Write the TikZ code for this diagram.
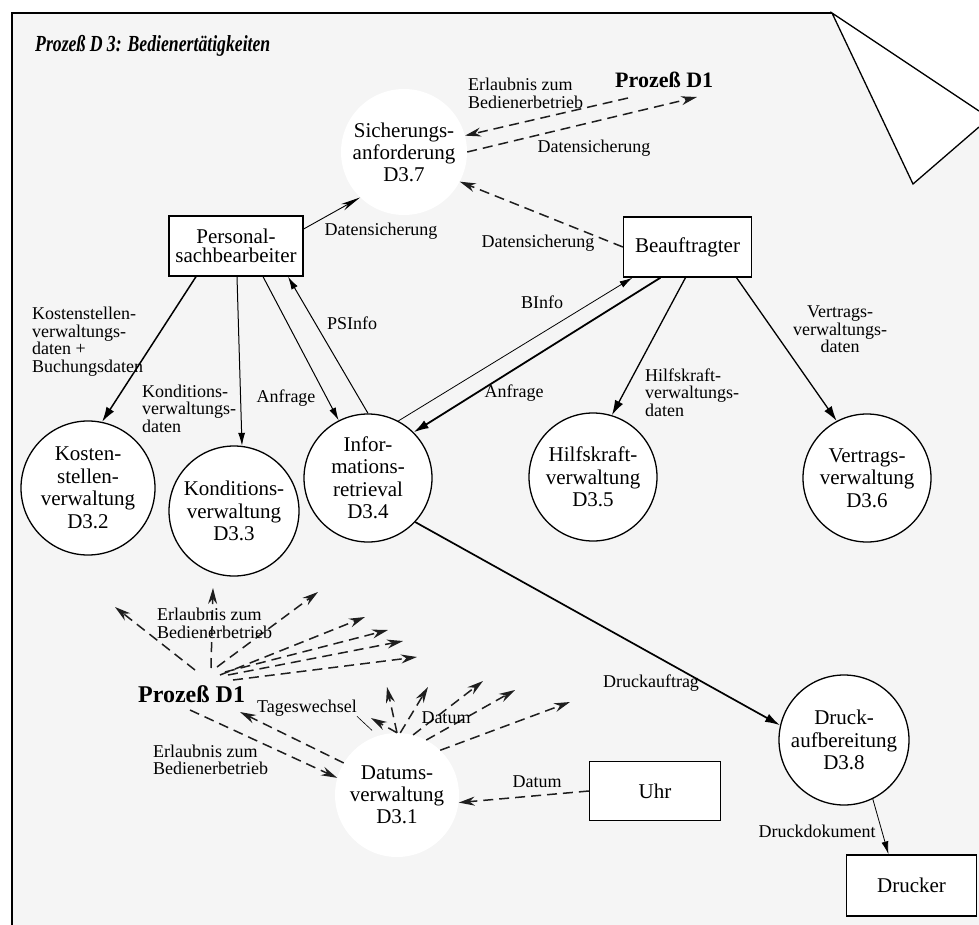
\documentclass[tikz,border=0pt]{standalone}
\usepackage{fontspec}
\setmainfont{Liberation Serif}
\newfontfamily\headfont[FakeStretch=0.77]{Liberation Serif}
\usetikzlibrary{arrows.meta}
\definecolor{sheet}{HTML}{F5F5F5}
\definecolor{ink}{HTML}{1E1E1E}
\begin{document}
\begin{tikzpicture}[x=1pt,y=-1pt,
  proc/.style={circle,draw=black,line width=1.3pt,fill=white,inner sep=0pt,align=center,font=\fontsize{21}{22.5}\selectfont},
  ghost/.style={circle,fill=white,inner sep=0pt,align=center,font=\fontsize{21}{22}\selectfont},
  term/.style={draw=black,line width=1.3pt,fill=white,inner sep=0pt,align=center,font=\fontsize{21}{19}\selectfont},
  lbl/.style={inner sep=0pt,font=\fontsize{18}{17.5}\selectfont},
  ext/.style={inner sep=0pt,font=\bfseries\fontsize{22}{24}\selectfont},
  flow/.style={draw=black,line width=1.3pt,-{Latex[length=15pt,width=9pt]}},
  thinflow/.style={draw=black,line width=0.8pt,-{Latex[length=13pt,width=7pt]}},
  ctrl/.style={draw=ink,line width=1.5pt,dash pattern=on 10pt off 6pt,-{Stealth[length=16pt,width=9pt,fill=ink]}},
]
\path[use as bounding box] (0,0) rectangle (979,925);
\clip (0,0) rectangle (979,925);

% sheet with folded corner
\fill[white] (0,0) rectangle (979,925);
\fill[sheet] (12,13) -- (832,13) -- (913,184) -- (979,127) -- (979,925) -- (12,925) -- cycle;
\fill[white] (832,13) -- (979,111) -- (979,127) -- (913,184) -- cycle;
\draw[line width=1.3pt,line join=miter] (979,111) -- (832,13) -- (913,184) -- (979,127);
\draw[line width=2pt] (12,925) -- (12,13) -- (832,13);

% title
\node[anchor=base west,inner sep=0pt,font=\headfont\bfseries\itshape\fontsize{23}{26}\selectfont] (title) at (35,52) {Prozeß D 3: Bedienertätigkeiten};

% processes
\node[ghost,minimum size=126pt] (sich) at (404,152) {Sicherungs-\\anforderung\\D3.7};
\node[proc,minimum size=134pt] (kost) at (88,488) {Kosten-\\stellen-\\verwaltung\\D3.2};
\node[proc,minimum size=130pt] (kond) at (234,511) {Konditions-\\verwaltung\\D3.3};
\node[proc,minimum size=128pt] (info) at (368,478) {Infor-\\mations-\\retrieval\\D3.4};
\node[proc,minimum size=128pt] (hilf) at (593,477) {Hilfskraft-\\verwaltung\\D3.5};
\node[proc,minimum size=128pt] (vert) at (867,478) {Vertrags-\\verwaltung\\D3.6};
\node[proc,minimum size=130pt] (druck) at (844,740) {Druck-\\aufbereitung\\D3.8};
\node[ghost,minimum size=124pt] (datum) at (397,795) {Datums-\\verwaltung\\D3.1};

% terminators
\node[term,minimum width=134pt,minimum height=60pt] (pers) at (236,246) {Personal-\\sachbearbeiter};
\node[term,minimum width=128pt,minimum height=60pt] (beau) at (687.5,247) {Beauftragter};
\node[term,minimum width=131pt,minimum height=59pt] (uhr) at (655,791) {Uhr};
\node[term,minimum width=130pt,minimum height=61pt] (druckr) at (911.5,885.5) {Drucker};

% external process
\node[ext,anchor=base west] (d1top) at (615,88) {Prozeß D1};
\node[ext,anchor=base west,font=\bfseries\fontsize{24}{26}\selectfont] (d1bot) at (138,702) {Prozeß D1};

% data flows
\draw[flow,line width=1.5pt] ([xshift=-40pt]pers.south) -- (kost.78);
\draw[thinflow,line width=1pt] ([xshift=1pt]pers.south) -- (kond.83);
\draw[thinflow,line width=1pt] ([xshift=27pt]pers.south) -- (info.117);
\draw[thinflow,line width=1pt] (info.90) -- ([xshift=52pt]pers.south);
\draw[thinflow] (info.62) -- ([xshift=-55pt]beau.south);
\draw[flow,line width=1.8pt] ([xshift=-27pt]beau.south) -- (info.45);
\draw[flow] ([xshift=-2pt]beau.south) -- (hilf.73);
\draw[flow] ([xshift=49pt]beau.south) -- (vert.118);
\draw[flow,line width=1.7pt] (info.-43) -- (druck.167);
\draw[thinflow] (druck.-64) -- ([xshift=-23pt]druckr.north);

% control flows around the backup request
\coordinate (d1a) at (628,98);
\coordinate (d1b) at (697,97);
\draw[ctrl] (d1a) -- (sich.15);
\draw[ctrl] (sich.east) -- (d1b);
\draw[ctrl] (beau.west) -- (sich.-28);
\draw[line width=0.9pt,-{Stealth[length=20pt,width=7pt]}] ([yshift=17pt]pers.east) -- (sich.226);

% control flows leaving Prozess D1 (lower)
\foreach \s/\t in {{(195,670)}/{(115,607)}, {(211,668)}/{(213,588)}, {(217,667)}/{(318,592)},
                   {(220,675)}/{(365,617)}, {(225,672)}/{(388,630)}, {(228,675)}/{(403,641)},
                   {(233,680)}/{(417,657)}}
  \draw[ctrl] \s -- \t;
\coordinate (d1c) at (190,710);
\coordinate (d1d) at (240,712);
\draw[ctrl] (d1c) -- (datum.164);
\draw[ctrl] (datum.149) -- (d1d);

% control flows leaving the date administration
\foreach \a/\t in {90/{(371,718)}, 90/{(387,687)}, 87/{(428,687)}, 75/{(483,681)},
                   62/{(515,690)}, 46/{(570,702)}}
  \draw[ctrl] (datum.\a) -- \t;
\draw[ctrl] (uhr.west) -- (datum.-7);

% flow labels
\node[lbl,anchor=west,align=left] (l1) at (468,93.5) {Erlaubnis zum\\Bedienerbetrieb};
\node[lbl] (l2) at (594,148) {Datensicherung};
\node[lbl] (l3) at (381,231) {Datensicherung};
\node[lbl] (l4) at (538,243) {Datensicherung};
\node[lbl,anchor=west,align=left] (l5) at (32,341.5) {Kostenstellen-\\verwaltungs-\\daten +\\Buchungsdaten};
\node[lbl,anchor=west,align=left] (l6) at (142,408.5) {Konditions-\\verwaltungs-\\daten};
\node[lbl] (l7) at (286,398) {Anfrage};
\node[lbl] (l8) at (352,323) {PSInfo};
\node[lbl] (l9) at (542,302) {BInfo};
\node[lbl] (l10) at (514,393) {Anfrage};
\node[lbl,anchor=west,align=left] (l11) at (645,392.5) {Hilfskraft-\\verwaltungs-\\daten};
\node[lbl,align=center] (l12) at (840,329.5) {Vertrags-\\verwaltungs-\\daten};
\node[lbl,anchor=west,align=left] (l13) at (157,623.5) {Erlaubnis zum\\Bedienerbetrieb};
\node[lbl] (l14) at (307,708) {Tageswechsel};
\node[lbl,anchor=west,align=left] (l15) at (153,760) {Erlaubnis zum\\Bedienerbetrieb};
\node[lbl] (l16) at (446,718) {Datum};
\node[lbl] (l17) at (537,782) {Datum};
\node[lbl] (l18) at (651,683) {Druckauftrag};
\node[lbl] (l19) at (817,831) {Druckdokument};
\draw[line width=0.6pt] (l14.south east) -- ++(15,14);
\end{tikzpicture}
\end{document}
